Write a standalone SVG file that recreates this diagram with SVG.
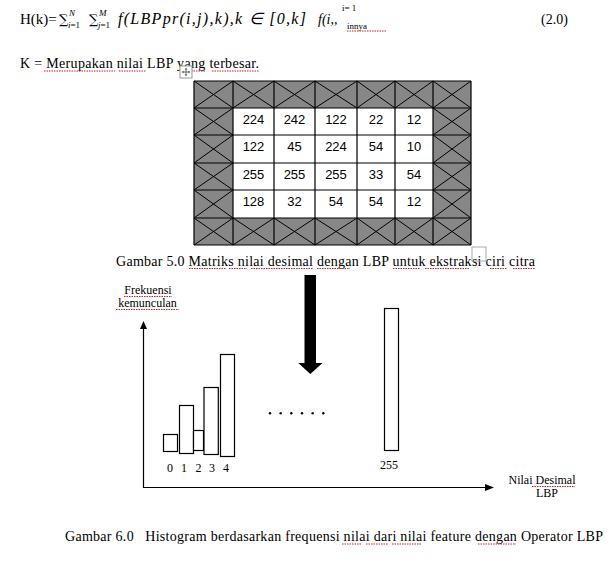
<svg xmlns="http://www.w3.org/2000/svg" width="615" height="572" viewBox="0 0 615 572">
<style>
.serif{font-family:"Liberation Serif","Times New Roman",serif;fill:#000}
.sans{font-family:"Liberation Sans",Arial,sans-serif;font-size:13px;fill:#000;text-anchor:middle}
.sq{stroke:#d02020;stroke-width:1;stroke-dasharray:1.5 1;fill:none}
.ln{stroke:#000;stroke-width:1.2;fill:none}
.dg{stroke:#000;stroke-width:1;fill:none}
.bar{fill:#fff;stroke:#000;stroke-width:1.2}
.it{font-style:italic}
.sc{font-size:9px}
.sum{font-family:"DejaVu Serif",serif;font-size:13px;fill:#000}
</style>
<rect width="615" height="572" fill="#fff"/>

<g id="formula">
<text class="serif" x="20" y="24" font-size="15">H(k)=</text>
<text class="sum" x="59" y="24">∑</text>
<text class="serif sc it" x="69" y="16">N</text>
<text class="serif sc" x="68" y="28"><tspan class="it">i</tspan>=1</text>
<text class="sum" x="89" y="24">∑</text>
<text class="serif sc it" x="99" y="16">M</text>
<text class="serif sc" x="98" y="28"><tspan class="it">j</tspan>=1</text>
<text class="serif it" x="118" y="24" font-size="16" textLength="188">f(LBPpr(i,j),k),k ∈ [0,k]</text>
<text class="serif it" x="318" y="24" font-size="14">f(i,,</text>
<text class="serif" x="342" y="11" font-size="9">i= 1</text>
<text class="serif" x="347" y="29" font-size="9">innya</text>
<path class="sq" d="M347 31H386"/>
<text class="serif" x="541" y="24" font-size="14">(2.0)</text>
</g>

<g id="k-line">
<text class="serif" x="20" y="68" font-size="14" textLength="239">K = Merupakan nilai LBP yang terbesar.</text>
<path class="sq" d="M44 71H115M119 71H146M181 71H205M212 71H259"/>
</g>

<g id="move-handle">
<rect x="180" y="66" width="12" height="12" fill="#fff" stroke="#999" stroke-width="1"/>
<path d="M186 68.5V75.5M182.5 72H189.5" stroke="#666" stroke-width="1"/>
<path d="M186 67.8l-1.5 1.8h3zM186 76.2l-1.5-1.8h3zM181.8 72l1.8-1.5v3zM190.2 72l-1.8-1.5v3z" fill="#666"/>
</g>

<g id="matrix">
<rect x="194" y="81" width="277" height="164" fill="#878787"/>
<rect x="233" y="108" width="200" height="110" fill="#fff"/>
<g class="dg">
<path d="M194 81L233 108M233 81L194 108M233 81L274 108M274 81L233 108M274 81L315 108M315 81L274 108M315 81L357 108M357 81L315 108M357 81L395 108M395 81L357 108M395 81L433 108M433 81L395 108M433 81L471 108M471 81L433 108"/>
<path d="M194 218L233 245M233 218L194 245M233 218L274 245M274 218L233 245M274 218L315 245M315 218L274 245M315 218L357 245M357 218L315 245M357 218L395 245M395 218L357 245M395 218L433 245M433 218L395 245M433 218L471 245M471 218L433 245"/>
<path d="M194 108L233 135M233 108L194 135M194 135L233 163M233 135L194 163M194 163L233 190M233 163L194 190M194 190L233 218M233 190L194 218"/>
<path d="M433 108L471 135M471 108L433 135M433 135L471 163M471 135L433 163M433 163L471 190M471 163L433 190M433 190L471 218M471 190L433 218"/>
</g>
<g class="ln">
<path d="M194 81H471M194 108H471M194 135H471M194 163H471M194 190H471M194 218H471M194 245H471"/>
<path d="M194 81V245M233 81V245M274 81V245M315 81V245M357 81V245M395 81V245M433 81V245M471 81V245"/>
</g>
<g class="sans">
<text x="253.5" y="124">224</text><text x="294.5" y="124">242</text><text x="336" y="124">122</text><text x="376" y="124">22</text><text x="414" y="124">12</text>
<text x="253.5" y="151">122</text><text x="294.5" y="151">45</text><text x="336" y="151">224</text><text x="376" y="151">54</text><text x="414" y="151">10</text>
<text x="253.5" y="179">255</text><text x="294.5" y="179">255</text><text x="336" y="179">255</text><text x="376" y="179">33</text><text x="414" y="179">54</text>
<text x="253.5" y="206">128</text><text x="294.5" y="206">32</text><text x="336" y="206">54</text><text x="376" y="206">54</text><text x="414" y="206">12</text>
</g>
</g>

<g id="caption-5">
<text class="serif" x="116" y="266" font-size="14" textLength="419">Gambar 5.0 Matriks nilai desimal dengan LBP untuk ekstraksi ciri citra</text>
<path class="sq" d="M189 268.5H226M229 268.5H247M251 268.5H313M317 268.5H350M393 268.5H420M425 268.5H470M490 268.5H507M513 268.5H535"/>
<rect x="472" y="247" width="14" height="14" fill="none" stroke="#aaa" stroke-width="1"/>
</g>

<g id="big-arrow">
<path d="M304.5 275H316V363H322.5L310.3 374L298.3 363H304.5Z" fill="#000"/>
</g>

<g id="histogram">
<text class="serif" x="148" y="294" font-size="12" text-anchor="middle">Frekuensi</text>
<text class="serif" x="147.5" y="307" font-size="12" text-anchor="middle">kemunculan</text>
<path class="sq" d="M124 296.5H172M116 309.5H179"/>
<g class="ln">
<path d="M143.5 327V487.5H487"/>
</g>
<path d="M143.5 321L147 329H140Z" fill="#000"/>
<path d="M494 487.5L485 484V491Z" fill="#000"/>
<rect class="bar" x="163.5" y="434.5" width="14" height="17"/>
<rect class="bar" x="179.5" y="405.5" width="14" height="48"/>
<rect class="bar" x="193.5" y="430.5" width="10" height="20"/>
<rect class="bar" x="204" y="387.5" width="14.3" height="67"/>
<rect class="bar" x="220.5" y="354.5" width="14" height="102"/>
<rect class="bar" x="384.5" y="308.5" width="14" height="142"/>
<g class="serif" font-size="12" text-anchor="middle">
<text x="170" y="472">0</text><text x="184" y="472">1</text><text x="198.5" y="472">2</text><text x="212" y="472">3</text><text x="226" y="472">4</text>
<text x="389" y="469">255</text>
</g>
<g fill="#000">
<circle cx="270" cy="413.3" r="1.2"/><circle cx="280.7" cy="413.3" r="1.2"/><circle cx="291.3" cy="413.3" r="1.2"/><circle cx="302" cy="413.3" r="1.2"/><circle cx="312.7" cy="413.3" r="1.2"/><circle cx="323.3" cy="413.3" r="1.2"/>
</g>
<text class="serif" x="542" y="484" font-size="12" text-anchor="middle">Nilai Desimal</text>
<text class="serif" x="547" y="497" font-size="12" text-anchor="middle">LBP</text>
<path class="sq" d="M532 486.5H575"/>
</g>

<g id="caption-6">
<text class="serif" x="65" y="541" font-size="14" textLength="538" xml:space="preserve">Gambar 6.0   Histogram berdasarkan frequensi nilai dari nilai feature dengan Operator LBP</text>
<path class="sq" d="M342 544H362M366 544H388M392 544H421M478 544H516"/>
</g>
</svg>
